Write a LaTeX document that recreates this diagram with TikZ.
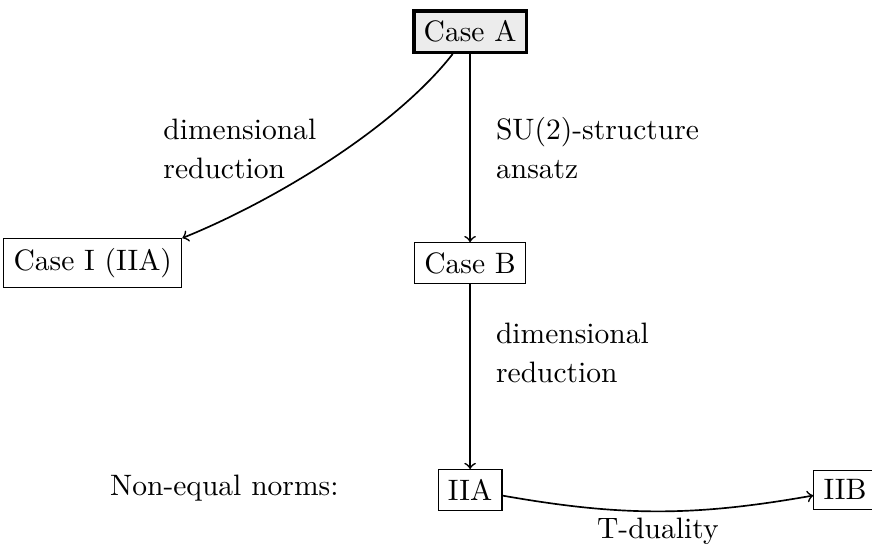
\documentclass[tikz,border=0pt]{standalone}
\usepackage{amsmath, amssymb}
\usepackage{tikz}

\begin{document}
\begin{tikzpicture}
  [font=\fontsize{10.6}{14}\selectfont,
   box/.style={shape=rectangle, draw=black, inner sep=3.5pt},
   lbl/.style={align=left}]
  \useasboundingbox (0, 0) rectangle (11, 6.9);
  \node (caseA) [box, very thick, fill=gray!15] at (5.93, 6.50) {Case A};
  \node (caseI) [box] at (1.17, 3.58) {Case I (IIA)};
  \node (caseB) [box] at (5.93, 3.58) {Case B};
  \node (iia) [box] at (5.93, 0.72) {IIA};
  \node (iib) [box] at (10.66, 0.72) {IIB};
  \node (norms) at (2.83, 0.74) {Non-equal norms:};
  \draw [->, semithick] (caseA) to node (lblSU) [right=2mm, lbl] {SU(2)-structure\\ansatz} (caseB);
  \draw [->, semithick] (caseB) to node (lblRedB) [pos=0.37, right=2mm, lbl] {dimensional\\reduction} (iia);
  \draw [->, semithick] (caseA) to [out=-128, in=22, looseness=0.75] node (lblRedA) [pos=0.44, left=2.5mm, lbl] {dimensional\\reduction} (caseI.north east);
  \draw [->, semithick] (iia) to [bend right=10] node (lblT) [below, inner sep=2pt] {T-duality} (iib);
\end{tikzpicture}
\end{document}
